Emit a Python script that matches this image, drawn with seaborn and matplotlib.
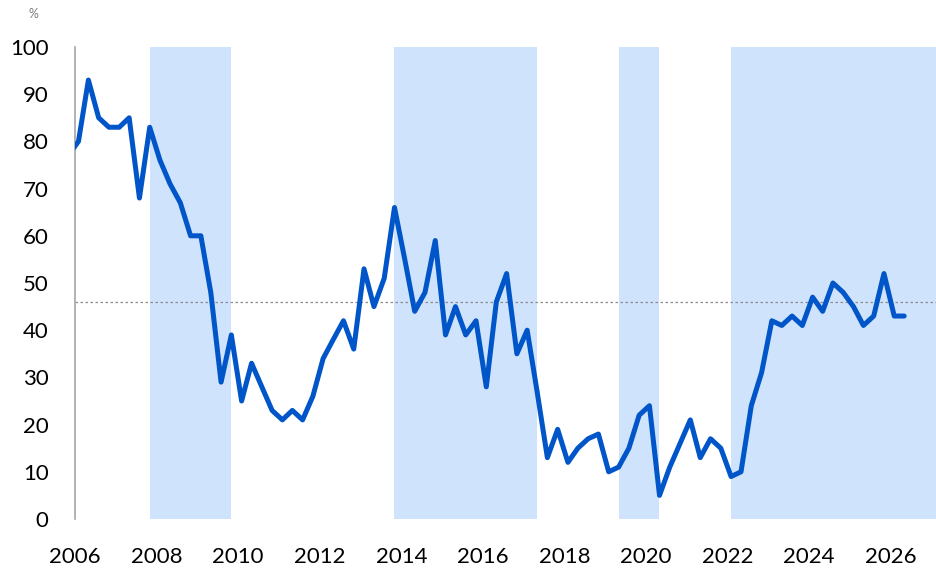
import pandas as pd
import matplotlib
matplotlib.use("Agg")
import matplotlib.pyplot as plt
import matplotlib.dates as mdates
import seaborn as sns

# quarterly series, first point sits just left of the axis start
start = "2005-11-01"
values = [77,
          80, 93, 85, 83, 83, 85, 68, 83, 76, 71, 67, 60, 60, 48, 29, 39,
          25, 33, 28, 23, 21, 23, 21, 26, 34, 38, 42, 36, 53, 45, 51, 66,
          55, 44, 48, 59, 39, 45, 39, 42, 28, 46, 52, 35, 40, 27, 13, 19,
          12, 15, 17, 18, 10, 11, 15, 22, 24, 5, 11, 16, 21, 13, 17, 15,
          9, 10, 24, 31, 42, 41, 43, 41, 47, 44, 50, 48, 45, 41, 43, 52,
          43, 43]
average = 46

shade_start = ["2007-11-01", "2013-11-01", "2019-05-01", "2022-02-01"]
shade_end = ["2009-11-01", "2017-05-01", "2020-05-01", "2027-03-01"]

year_ticks = [str(y) for y in range(2006, 2027, 2)]
y_ticks = list(range(0, 101, 10))

dates = pd.date_range(start, periods=len(values), freq="3MS")
df = pd.DataFrame({"date": dates, "value": values})

sns.set_style("white")
plt.rcParams["font.family"] = ["Lato", "DejaVu Sans"]

fig = plt.figure(figsize=(9.36, 5.72), dpi=100)
ax = fig.add_axes([75 / 936, 1 - 519 / 572, 1 - 75 / 936, (519 - 47) / 572])

for s, e in zip(shade_start, shade_end):
    ax.axvspan(pd.Timestamp(s), pd.Timestamp(e), color="#cfe3fc", lw=0, zorder=0)

ax.axhline(average, color="#8c8c8c", lw=0.9, ls=(0, (2, 2)), zorder=1)

sns.lineplot(data=df, x="date", y="value", ax=ax, color="#0055c8",
             lw=3.6, zorder=3, solid_joinstyle="round")

ax.set_xlim(pd.Timestamp("2006-01-01"), pd.Timestamp("2027-02-10"))
ax.set_ylim(0, 100)
ax.set_xticks([pd.Timestamp(f"{y}-01-01") for y in year_ticks])
ax.xaxis.set_major_formatter(mdates.DateFormatter("%Y"))
ax.set_yticks(y_ticks)
ax.tick_params(axis="both", length=0, labelsize=16, colors="black")
ax.tick_params(axis="x", pad=20)
ax.tick_params(axis="y", pad=19)
ax.set_xlabel("")
ax.set_ylabel("")

for side in ["top", "right", "bottom"]:
    ax.spines[side].set_visible(False)
ax.spines["left"].set_color("#a6a6a6")
ax.spines["left"].set_linewidth(1.2)

fig.text(33 / 936, 1 - 14 / 572, "%", fontsize=9, color="#7f7f7f",
         ha="center", va="center")

fig.savefig("out.png", dpi=100)
